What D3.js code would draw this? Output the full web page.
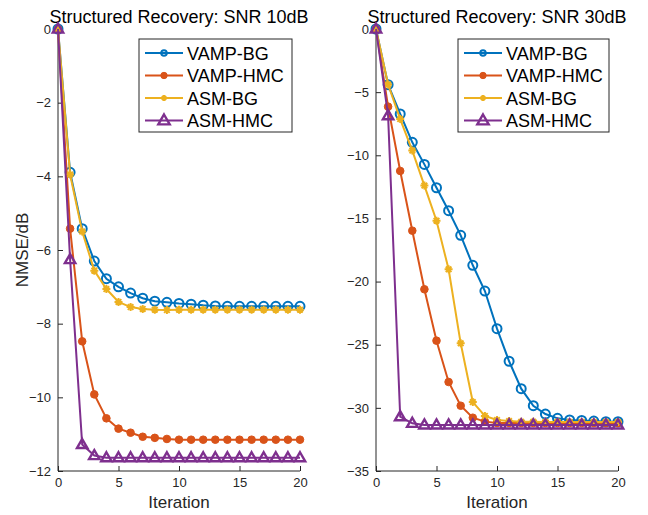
<!DOCTYPE html>
<html>
<head>
<meta charset="utf-8">
<script src="https://cdn.jsdelivr.net/npm/d3@7"></script>
<style>
  body { margin: 0; background: #fff; }
  svg text { font-family: "Liberation Sans", Arial, sans-serif; }
  .axis path, .axis line { stroke: #262626; }
  .axis text { fill: #262626; font-size: 13px; }
</style>
</head>
<body>
<div id="chart-area"></div>
<script>
// iterations 0..20
var iterations = d3.range(0, 21);
var seriesNames = ["VAMP-BG", "VAMP-HMC", "ASM-BG", "ASM-HMC"];
var colors = ["#0072BD", "#D95319", "#EDB120", "#7E2F8E"];

// SNR 10dB
var vampBG10 = [0, -3.89, -5.42, -6.3, -6.78, -7.0, -7.17, -7.31, -7.39, -7.42, -7.45, -7.47, -7.5, -7.52, -7.53, -7.53, -7.53, -7.53, -7.53, -7.53, -7.53];
var vampHMC10 = [0, -5.42, -8.48, -9.92, -10.57, -10.85, -10.96, -11.07, -11.1, -11.13, -11.15, -11.15, -11.15, -11.15, -11.15, -11.15, -11.15, -11.15, -11.15, -11.15, -11.15];
var asmBG10 = [0, -3.95, -5.5, -6.56, -7.06, -7.41, -7.55, -7.6, -7.62, -7.63, -7.62, -7.62, -7.62, -7.62, -7.62, -7.62, -7.62, -7.62, -7.62, -7.62, -7.62];
var asmHMC10 = [0, -6.26, -11.28, -11.58, -11.64, -11.64, -11.64, -11.64, -11.64, -11.64, -11.64, -11.64, -11.64, -11.64, -11.64, -11.64, -11.64, -11.64, -11.64, -11.64, -11.64];

// SNR 30dB
var vampBG30 = [0, -4.41, -6.73, -8.97, -10.72, -12.57, -14.39, -16.34, -18.71, -20.75, -23.73, -26.31, -28.48, -29.83, -30.49, -30.83, -30.96, -31.0, -31.05, -31.1, -31.1];
var vampHMC30 = [0, -6.15, -11.24, -15.97, -20.61, -24.68, -27.95, -29.83, -30.78, -31.09, -31.2, -31.2, -31.2, -31.2, -31.2, -31.2, -31.2, -31.2, -31.2, -31.2, -31.2];
var asmBG30 = [0, -4.4, -7.13, -9.63, -12.4, -15.18, -19.03, -24.89, -29.54, -30.64, -30.96, -31.05, -31.1, -31.1, -31.12, -31.12, -31.12, -31.12, -31.12, -31.12, -31.12];
var asmHMC30 = [0, -6.86, -30.7, -31.22, -31.35, -31.35, -31.35, -31.35, -31.35, -31.35, -31.35, -31.35, -31.35, -31.35, -31.35, -31.35, -31.35, -31.35, -31.35, -31.35, -31.35];

var xTicks = [0, 5, 10, 15, 20];
var yTicks10 = [0, -2, -4, -6, -8, -10, -12];
var yTicks30 = [0, -5, -10, -15, -20, -25, -30, -35];

var svg = d3.select("#chart-area").append("svg")
    .attr("width", 648)
    .attr("height", 515);

function drawPanel(opt) {
    var x = d3.scaleLinear().domain([0, 20]).range([opt.left, opt.right]);
    var y = d3.scaleLinear().domain(opt.yDomain).range([opt.top, opt.bottom]);

    var g = svg.append("g");

    var xAxis = d3.axisBottom(x).tickValues(xTicks).tickSize(-5).tickPadding(7);
    g.append("g")
        .attr("class", "axis")
        .attr("transform", "translate(0," + opt.bottom + ")")
        .call(xAxis)
        .call(function(s) { s.select(".domain").attr("d", "M" + opt.left + ",0H" + opt.right); });

    var yAxis = d3.axisLeft(y).tickValues(opt.yTicks).tickSize(-5).tickPadding(7);
    g.append("g")
        .attr("class", "axis")
        .attr("transform", "translate(" + opt.left + ",0)")
        .call(yAxis)
        .call(function(s) { s.select(".domain").attr("d", "M0," + opt.top + "V" + opt.bottom); });

    g.append("text")
        .attr("x", (opt.left + opt.right) / 2)
        .attr("y", 23)
        .attr("text-anchor", "middle")
        .attr("font-size", "18px")
        .attr("fill", "#000")
        .text(opt.title);

    g.append("text")
        .attr("x", (opt.left + opt.right) / 2)
        .attr("y", 508)
        .attr("text-anchor", "middle")
        .attr("font-size", "17px")
        .attr("fill", "#262626")
        .text("Iteration");

    var line = d3.line()
        .x(function(d, i) { return x(iterations[i]); })
        .y(function(d) { return y(d); });

    opt.series.forEach(function(vals, k) {
        g.append("path")
            .datum(vals)
            .attr("d", line)
            .attr("fill", "none")
            .attr("stroke", colors[k])
            .attr("stroke-width", 2);

        var mg = g.append("g");
        vals.forEach(function(v, i) {
            drawMarker(mg, k, x(iterations[i]), y(v));
        });
    });

    // legend
    var lg = g.append("g").attr("transform", "translate(" + opt.legendX + ",39)");
    lg.append("rect")
        .attr("width", opt.legendW)
        .attr("height", 93)
        .attr("fill", "#fff")
        .attr("stroke", "#262626")
        .attr("stroke-width", 1);
    seriesNames.forEach(function(name, k) {
        var ly = 14 + k * 22.5;
        lg.append("line")
            .attr("x1", 6).attr("x2", 44)
            .attr("y1", ly).attr("y2", ly)
            .attr("stroke", colors[k])
            .attr("stroke-width", 2);
        drawMarker(lg, k, 25, ly, true);
        lg.append("text")
            .attr("x", 48)
            .attr("y", ly + 6.5)
            .attr("font-size", "18px")
            .attr("fill", "#000")
            .text(name);
    });
}

function drawMarker(g, k, cx, cy, small) {
    var c = colors[k];
    if (k === 0) {
        g.append("circle").attr("cx", cx).attr("cy", cy).attr("r", small ? 2.8 : 4.5)
            .attr("fill", "none").attr("stroke", c).attr("stroke-width", 2);
    } else if (k === 1) {
        g.append("circle").attr("cx", cx).attr("cy", cy).attr("r", small ? 3.2 : 3.8)
            .attr("fill", c).attr("stroke", c).attr("stroke-width", 1);
    } else if (k === 2) {
        var s = small ? 3 : 4;
        var p = "M" + (cx - s) + "," + cy + "H" + (cx + s) +
            "M" + cx + "," + (cy - s) + "V" + (cy + s) +
            "M" + (cx - s * 0.7) + "," + (cy - s * 0.7) + "L" + (cx + s * 0.7) + "," + (cy + s * 0.7) +
            "M" + (cx - s * 0.7) + "," + (cy + s * 0.7) + "L" + (cx + s * 0.7) + "," + (cy - s * 0.7);
        g.append("path").attr("d", p).attr("fill", "none").attr("stroke", c).attr("stroke-width", 2);
    } else {
        var t = small ? 6 : 5.5;
        var tp = "M" + cx + "," + (cy - t) + "L" + (cx + t * 0.95) + "," + (cy + t * 0.65) +
            "L" + (cx - t * 0.95) + "," + (cy + t * 0.65) + "Z";
        g.append("path").attr("d", tp).attr("fill", "none").attr("stroke", c).attr("stroke-width", 2.4);
    }
}

drawPanel({
    left: 58, right: 300, top: 29, bottom: 471,
    yDomain: [0, -12], yTicks: yTicks10,
    title: "Structured Recovery: SNR 10dB",
    series: [vampBG10, vampHMC10, asmBG10, asmHMC10],
    legendX: 139, legendW: 153
});

drawPanel({
    left: 376, right: 618, top: 29, bottom: 471,
    yDomain: [0, -35], yTicks: yTicks30,
    title: "Structured Recovery: SNR 30dB",
    series: [vampBG30, vampHMC30, asmBG30, asmHMC30],
    legendX: 458, legendW: 151
});

svg.append("text")
    .attr("transform", "translate(28,250) rotate(-90)")
    .attr("text-anchor", "middle")
    .attr("font-size", "17px")
    .attr("fill", "#262626")
    .text("NMSE/dB");
</script>
</body>
</html>
